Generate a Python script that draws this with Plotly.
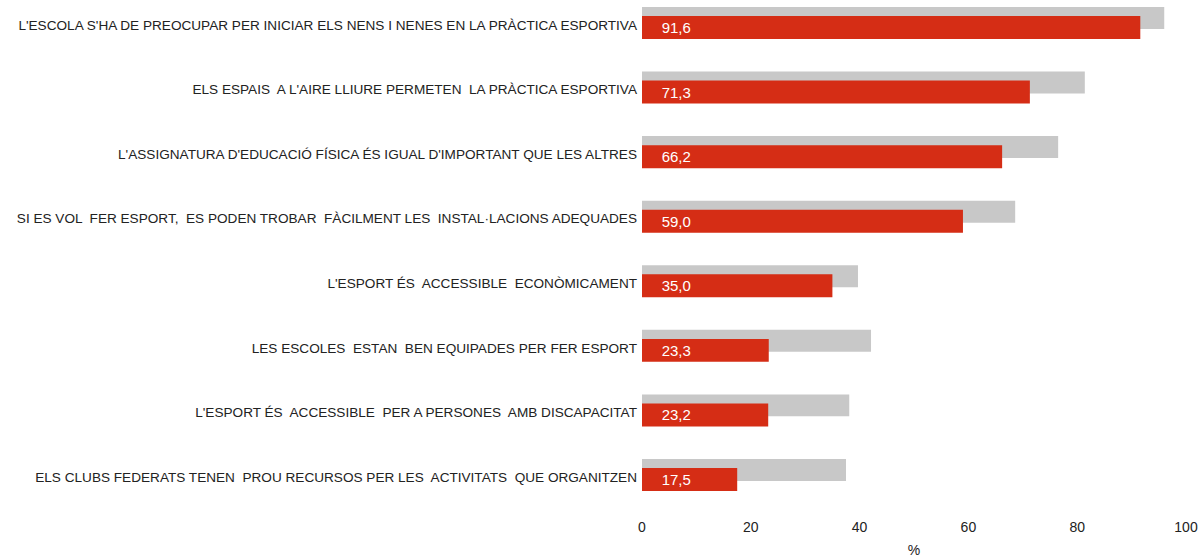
import plotly.graph_objects as go

categories = [
    "L'ESCOLA S'HA DE PREOCUPAR PER INICIAR ELS NENS I NENES EN LA PRÀCTICA ESPORTIVA",
    "ELS ESPAIS  A L'AIRE LLIURE PERMETEN  LA PRÀCTICA ESPORTIVA",
    "L'ASSIGNATURA D'EDUCACIÓ FÍSICA ÉS IGUAL D'IMPORTANT QUE LES ALTRES",
    "SI ES VOL  FER ESPORT,  ES PODEN TROBAR  FÀCILMENT LES  INSTAL·LACIONS ADEQUADES",
    "L'ESPORT ÉS  ACCESSIBLE  ECONÒMICAMENT",
    "LES ESCOLES  ESTAN  BEN EQUIPADES PER FER ESPORT",
    "L'ESPORT ÉS  ACCESSIBLE  PER A PERSONES  AMB DISCAPACITAT",
    "ELS CLUBS FEDERATS TENEN  PROU RECURSOS PER LES  ACTIVITATS  QUE ORGANITZEN",
]
red_values = [91.6, 71.3, 66.2, 59.0, 35.0, 23.3, 23.2, 17.5]
grey_values = [96.0, 81.4, 76.5, 68.6, 39.7, 42.1, 38.1, 37.5]
x_ticks = [0, 20, 40, 60, 80, 100]

RED = "#D52D15"
GREY = "#C8C8C8"

labels = ["\u00a0" * 4 + f"{v:.1f}".replace(".", ",") for v in red_values]

fig = go.Figure()

# grey reference bars (behind, shifted up)
fig.add_trace(go.Bar(
    y=categories, x=grey_values, orientation="h",
    marker=dict(color=GREY, line=dict(width=0)),
    width=0.34, offset=-0.279,
    hoverinfo="skip", showlegend=False,
))

# red main bars with values inside
fig.add_trace(go.Bar(
    y=categories, x=red_values, orientation="h",
    marker=dict(color=RED, line=dict(width=0)),
    width=0.356, offset=-0.139,
    text=labels, textposition="inside", insidetextanchor="start",
    textfont=dict(color="white", size=15, family="Liberation Sans, Arial"),
    textangle=0,
    showlegend=False,
))

fig.update_layout(
    width=1203, height=558,
    barmode="overlay",
    plot_bgcolor="white", paper_bgcolor="white",
    margin=dict(l=642, r=17, t=0, b=48),
    font=dict(family="Liberation Sans, Arial", color="#222222"),
    uniformtext=dict(minsize=8, mode="show"),
)

fig.update_xaxes(
    range=[0, 100], tickvals=x_ticks, showgrid=False, zeroline=False,
    showline=False, tickfont=dict(size=14, color="#222222"),
    ticklabelstandoff=7,
    title=dict(text="%", font=dict(size=14, color="#222222"), standoff=12),
)
fig.update_yaxes(
    range=[7.511, -0.387], showgrid=False, zeroline=False, showline=False,
    tickfont=dict(size=13.6, color="#222222"), ticklabelstandoff=4,
)

# drop the default 8px page margin so the figure fills the window
fig.write_html(
    "out.html",
    config={"displayModeBar": False},
    post_script="document.body.style.margin='0';",
)
